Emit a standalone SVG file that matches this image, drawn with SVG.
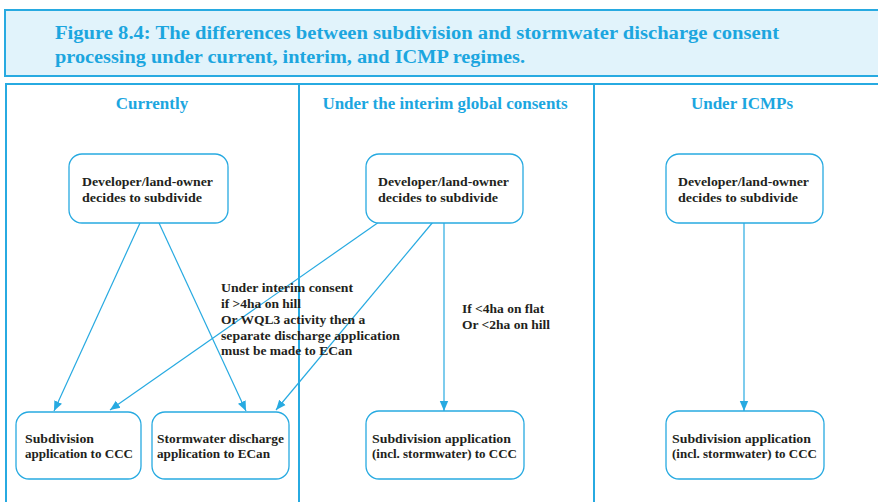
<svg xmlns="http://www.w3.org/2000/svg" width="878" height="502" viewBox="0 0 878 502">
  <style>
    .frame { fill: none; stroke: #27aae1; stroke-width: 2; }
    .node { fill: #ffffff; stroke: #27aae1; stroke-width: 1.3; }
    .title { font-family: "Liberation Serif", serif; font-weight: bold; font-size: 18px; fill: #1ca6df; }
    .head { font-family: "Liberation Serif", serif; font-weight: bold; font-size: 17px; fill: #1ca6df; text-anchor: middle; }
    .label { font-family: "Liberation Serif", serif; font-weight: bold; font-size: 13.5px; fill: #231f20; }
    .edge { fill: none; stroke: #27aae1; stroke-width: 1.2; marker-end: url(#arrow); }
  </style>
  <defs>
    <marker id="arrow" viewBox="0 0 10 10" refX="10" refY="5" markerWidth="10" markerHeight="10" markerUnits="userSpaceOnUse" orient="auto">
      <path d="M0,0.8 L10,5 L0,9.2 z" fill="#27aae1"/>
    </marker>
  </defs>

  <rect width="878" height="502" fill="#ffffff"/>

  <!-- Title banner -->
  <g id="title">
    <rect x="5" y="10" width="880" height="66" fill="#e1f3fb" stroke="#27aae1" stroke-width="2"/>
    <text class="title" x="55" y="39" textLength="724" lengthAdjust="spacingAndGlyphs">Figure 8.4: The differences between subdivision and stormwater discharge consent</text>
    <text class="title" x="55" y="63" textLength="470" lengthAdjust="spacingAndGlyphs">processing under current, interim, and ICMP regimes.</text>
  </g>

  <!-- Three-column table -->
  <g id="table">
    <path class="frame" d="M6,502 V84 H885"/>
    <line class="frame" x1="299" y1="84" x2="299" y2="502"/>
    <line class="frame" x1="594" y1="84" x2="594" y2="502"/>
    <text class="head" x="152" y="109">Currently</text>
    <text class="head" x="445" y="109">Under the interim global consents</text>
    <text class="head" x="742" y="109">Under ICMPs</text>
  </g>

  <!-- Connectors -->
  <g id="connectors">
    <line class="edge" x1="140" y1="223" x2="54" y2="411"/>
    <line class="edge" x1="159" y1="223" x2="246" y2="411"/>
    <line class="edge" x1="379" y1="222" x2="110" y2="410"/>
    <line class="edge" x1="433" y1="222" x2="276" y2="410"/>
    <line class="edge" x1="444" y1="223" x2="444" y2="411"/>
    <line class="edge" x1="744" y1="223" x2="744" y2="411"/>
  </g>

  <!-- Edge annotations -->
  <g id="note-interim">
    <text class="label" x="221" y="292" textLength="132" lengthAdjust="spacingAndGlyphs">Under interim consent</text>
    <text class="label" x="221" y="308">if &gt;4ha on hill</text>
    <text class="label" x="221" y="324">Or WQL3 activity then a</text>
    <text class="label" x="221" y="340" textLength="179" lengthAdjust="spacingAndGlyphs">separate discharge application</text>
    <text class="label" x="221" y="355">must be made to ECan</text>
  </g>
  <g id="note-threshold">
    <text class="label" x="462" y="313">If &lt;4ha on flat</text>
    <text class="label" x="462" y="329">Or &lt;2ha on hill</text>
  </g>

  <!-- Nodes: currently -->
  <g id="dev-current">
    <rect class="node" x="69" y="154" width="159" height="69" rx="13"/>
    <text class="label" x="82" y="186" textLength="131" lengthAdjust="spacingAndGlyphs">Developer/land-owner</text>
    <text class="label" x="82" y="202" textLength="120" lengthAdjust="spacingAndGlyphs">decides to subdivide</text>
  </g>
  <g id="subdiv-ccc">
    <rect class="node" x="16" y="412" width="125" height="67" rx="13"/>
    <text class="label" x="25" y="443" textLength="69" lengthAdjust="spacingAndGlyphs">Subdivision</text>
    <text class="label" x="25" y="458" textLength="108" lengthAdjust="spacingAndGlyphs">application to CCC</text>
  </g>
  <g id="storm-ecan">
    <rect class="node" x="152" y="412" width="137" height="67" rx="13"/>
    <text class="label" x="157" y="443" textLength="127" lengthAdjust="spacingAndGlyphs">Stormwater discharge</text>
    <text class="label" x="157" y="458" textLength="113" lengthAdjust="spacingAndGlyphs">application to ECan</text>
  </g>

  <!-- Nodes: interim -->
  <g id="dev-interim">
    <rect class="node" x="366" y="154" width="157" height="69" rx="13"/>
    <text class="label" x="378" y="186" textLength="131" lengthAdjust="spacingAndGlyphs">Developer/land-owner</text>
    <text class="label" x="378" y="202" textLength="120" lengthAdjust="spacingAndGlyphs">decides to subdivide</text>
  </g>
  <g id="subdiv-interim">
    <rect class="node" x="366" y="411" width="158" height="68" rx="13"/>
    <text class="label" x="372" y="443" textLength="139" lengthAdjust="spacingAndGlyphs">Subdivision application</text>
    <text class="label" x="372" y="458" textLength="145" lengthAdjust="spacingAndGlyphs">(incl. stormwater) to CCC</text>
  </g>

  <!-- Nodes: ICMPs -->
  <g id="dev-icmp">
    <rect class="node" x="666" y="154" width="157" height="69" rx="13"/>
    <text class="label" x="678" y="186" textLength="131" lengthAdjust="spacingAndGlyphs">Developer/land-owner</text>
    <text class="label" x="678" y="202" textLength="120" lengthAdjust="spacingAndGlyphs">decides to subdivide</text>
  </g>
  <g id="subdiv-icmp">
    <rect class="node" x="666" y="411" width="158" height="68" rx="13"/>
    <text class="label" x="672" y="443" textLength="139" lengthAdjust="spacingAndGlyphs">Subdivision application</text>
    <text class="label" x="672" y="458" textLength="145" lengthAdjust="spacingAndGlyphs">(incl. stormwater) to CCC</text>
  </g>
</svg>
